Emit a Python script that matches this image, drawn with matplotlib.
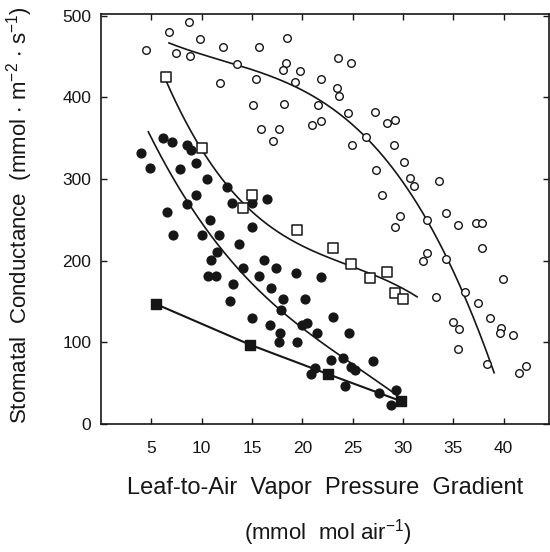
import matplotlib
matplotlib.use('Agg')
import matplotlib.pyplot as plt
import numpy as np

plt.rcParams['font.family'] = ['Liberation Sans', 'DejaVu Sans']
plt.rcParams['mathtext.default'] = 'regular'

# open circles (x, y)
open_circle_x = [4.5, 6.75, 8.77, 9.82, 7.48, 8.87, 12.07, 13.46, 11.8, 15.74, 18.45, 18.35,
                 18.05, 19.74, 19.25, 15.38, 15.12, 18.2, 15.94, 17.73, 17.1, 21.0, 21.86,
                 21.6, 21.86, 23.5, 23.4, 23.65, 24.5, 24.8, 24.9, 27.2, 28.4, 29.2, 26.3,
                 29.1, 30.06, 27.3, 30.7, 31.1, 33.6, 27.9, 32.4, 34.3, 35.5, 37.2, 37.8,
                 29.7, 29.2, 37.8, 32.4, 32.0, 34.3, 39.95, 33.3, 36.2, 37.4, 38.6, 39.7,
                 39.6, 40.9, 35.0, 35.6, 35.5, 38.3, 41.5, 42.2]
open_circle_y = [458, 480, 492, 471, 454, 451, 462, 441, 417, 462, 473, 442,
                 433, 432, 419, 423, 391, 392, 361, 361, 346, 366, 371,
                 390, 422, 448, 412, 401, 381, 442, 341, 382, 368, 372, 351,
                 341, 321, 311, 301, 292, 297, 280, 250, 258, 244, 246, 246,
                 255, 241, 216, 209, 199, 202, 178, 156, 162, 148, 130, 118,
                 112, 109, 125, 116, 92, 74, 62, 71]

# filled circles
filled_circle_x = [4.0, 4.83, 6.12, 7.08, 8.5, 8.97, 9.46, 7.8, 10.5, 9.46, 8.5, 6.6, 10.8,
                   12.54, 13.0, 15.0, 16.5, 15.0, 7.18, 10.06, 10.9, 10.6, 11.7, 13.7,
                   11.48, 11.38, 14.06, 16.2, 17.4, 19.4, 15.74, 13.16, 16.9, 12.77, 18.1,
                   20.3, 17.9, 15.0, 16.8, 20.0, 20.5, 21.86, 17.8, 17.7, 19.5, 21.5, 22.8,
                   21.3, 20.9, 23.0, 24.6, 24.0, 24.8, 25.2, 27.0, 24.2, 27.6, 29.3, 28.8]
filled_circle_y = [332, 314, 350, 345, 341, 336, 320, 312, 300, 280, 269, 259, 250,
                   290, 271, 271, 275, 241, 231, 231, 201, 181, 231, 221,
                   211, 181, 191, 201, 191, 185, 181, 171, 166, 151, 153,
                   153, 140, 130, 121, 121, 124, 180, 111, 100, 100, 111, 78,
                   69, 61, 131, 111, 81, 70, 66, 77, 46, 38, 42, 23]

# open squares
open_square_x = [6.42, 10.06, 15.0, 14.06, 19.5, 23.0, 24.8, 26.7, 28.4, 29.2, 30.0]
open_square_y = [425, 338, 280, 264, 237, 215, 196, 179, 186, 161, 153]

# filled squares (joined by straight segments)
filled_square_x = [5.43, 14.82, 22.56, 29.8]
filled_square_y = [147, 97, 61, 28]

# points
curve_open_circle_x = [6.75, 15.85, 21.6, 26.3, 32.4, 36.2, 39.05]
curve_open_circle_y = [465, 438, 390, 349, 250, 162, 57]
curve_open_square_x = [6.42, 9.6, 12.54, 14.5, 19.5, 22.8, 26.4, 31.4]
curve_open_square_y = [425, 338, 289, 270, 225, 205, 179, 158]
curve_filled_circle_x = [4.7, 8.5, 11.87, 14.06, 16.5, 19.7, 24.8, 29.7]
curve_filled_circle_y = [360, 269, 213, 191, 156, 117, 74, 33]

x_ticks = [5, 10, 15, 20, 25, 30, 35, 40]
y_ticks = [0, 100, 200, 300, 400, 500]

ink = '#161616'


def draw_curve(ax, xs, ys):
    """smooth line through the points read along a curve"""
    coef = np.polyfit(xs, ys, 3)
    xx = np.linspace(min(xs), max(xs), 200)
    ax.plot(xx, np.polyval(coef, xx), color=ink, lw=1.2, zorder=2)


fig = plt.figure(figsize=(5.5, 5.52), dpi=100)
ax = fig.add_axes([101 / 550, 128 / 552, 448 / 550, 410 / 552])

draw_curve(ax, curve_open_circle_x, curve_open_circle_y)
draw_curve(ax, curve_open_square_x, curve_open_square_y)
draw_curve(ax, curve_filled_circle_x, curve_filled_circle_y)
ax.plot(filled_square_x, filled_square_y, color=ink, lw=1.5, zorder=2)

ax.scatter(open_circle_x, open_circle_y, s=30, facecolors='white', edgecolors=ink,
           linewidths=1.0, zorder=3)
ax.scatter(filled_circle_x, filled_circle_y, s=40, color=ink, zorder=3)
ax.scatter(open_square_x, open_square_y, s=55, marker='s', facecolors='white',
           edgecolors=ink, linewidths=1.1, zorder=3)
ax.scatter(filled_square_x, filled_square_y, s=60, marker='s', color=ink, zorder=3)

ax.set_xlim(0, 44.5)
ax.set_ylim(0, 502)
ax.set_xticks(x_ticks)
ax.set_yticks(y_ticks)

for sp in ax.spines.values():
    sp.set_linewidth(1.2)
    sp.set_color(ink)

ax.tick_params(direction='in', length=4, width=1, top=True, right=True,
               labelsize=12.5, colors=ink)
ax.tick_params(axis='x', pad=12)
ax.tick_params(axis='y', pad=7)

ax.set_xlabel('Leaf-to-Air  Vapor  Pressure  Gradient', fontsize=17, color=ink)
ax.xaxis.set_label_coords(0.5, -0.156)
ax.xaxis.label.set_va('center')
fig.text(0.596, (552 - 533) / 552, '(mmol  mol air$^{-1}$)', fontsize=16,
         ha='center', va='center', color=ink)

ax.set_ylabel(r'Stomatal  Conductance  (mmol $\cdot$ m$^{-2}$ $\cdot$ s$^{-1}$)',
              fontsize=16, color=ink)
ax.yaxis.set_label_coords(-0.181, 0.51)
ax.yaxis.label.set_va('center')

fig.savefig('out.png', dpi=100)
